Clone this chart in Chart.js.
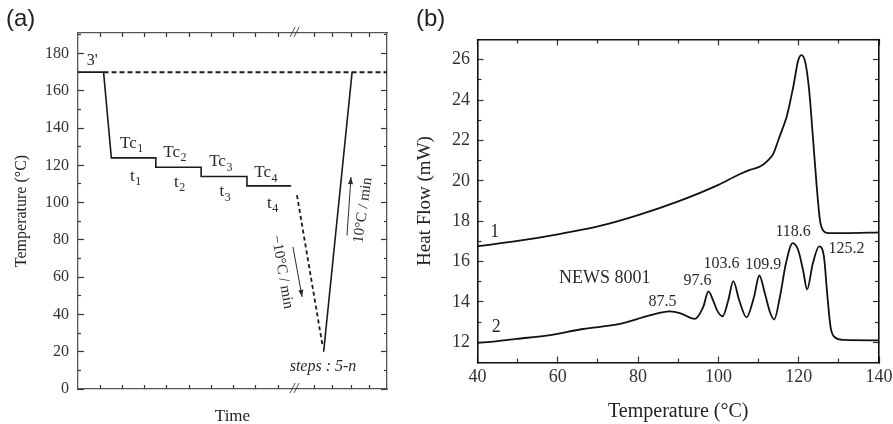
<!DOCTYPE html>
<html lang="en">
<head>
<meta charset="UTF-8">
<title>Stepwise crystallization protocol and DSC heating curves</title>
<script src="https://cdn.jsdelivr.net/npm/chart.js"></script>
<style>
  html, body { margin: 0; padding: 0; background: #fff; overflow: hidden; }
  #wrap { position: relative; width: 893px; height: 424px; overflow: hidden; }
  canvas { position: absolute; top: 0; }
  #chartA { left: 0; }
  #chartB { left: 405px; }
  .tag { position: absolute; top: 4px; font-family: "Liberation Sans", Arial, sans-serif; font-size: 24px; color: #222; }
</style>
</head>
<body>
<div id="wrap">
  <canvas id="chartA" width="405" height="424"></canvas>
  <canvas id="chartB" width="520" height="424"></canvas>
  <div class="tag" style="left:6px;">(a)</div>
  <div class="tag" style="left:416px;">(b)</div>
</div>
<script>
// ---------- panel (a): thermal protocol (time in arbitrary units) ----------
const isoTime = [0, 1.15, 1.5, 3.5, 3.5, 5.54, 5.54, 7.6, 7.6, 9.59];
const isoTemp = [170, 170, 124, 124, 119, 119, 114, 114, 109, 109];
const coolTime = [9.85, 10.99];
const coolTemp = [104, 24];
const heatTime = [11.05, 12.33];
const heatTemp = [20, 170];
const meltTime = [1.15, 13.9];
const meltTemp = [170, 170];

const timeTicks = [1, 2, 3, 4, 5, 6, 7, 8, 9, 10.65, 11.47, 12.29, 13.11];
const tempTicksA = [0, 20, 40, 60, 80, 100, 120, 140, 160, 180];
const tempMinorA = [10, 30, 50, 70, 90, 110, 130, 150, 170, 190];

// ---------- panel (b): DSC heating curves ----------
const temp1 = [40, 50, 60, 70, 80, 90, 100, 105, 108, 110.5,
               112.3, 113.7, 114.9, 116, 117, 118.65, 119.9, 120.7, 121.7, 122.6, 123.6, 124.5, 125.3,
               126.1, 127.4, 131.5, 140];
const flow1 = [16.76, 17.02, 17.35, 17.74, 18.3, 18.98, 19.8, 20.3, 20.55, 20.72,
               21.0, 21.35, 22.0, 22.6, 23.17, 24.66, 25.98, 26.23, 25.82, 24.49, 22.0, 19.69, 18.04,
               17.54, 17.41, 17.41, 17.45];
const temp2 = [40, 44.5, 49.7, 57.2, 66.3, 75.5, 82.9, 87.9, 90.4, 94.15, 96.2, 97.5, 98.7, 99.7, 101.05,
               102.45, 103.7, 105.2, 107, 108.85, 110.2, 111.6, 112.85, 113.9, 115.3, 116.8, 118.5, 119.9,
               121.1, 122.1, 123.5, 125.1, 126.3, 127.1, 127.95, 129, 131.1, 140];
const flow2 = [11.97, 12.05, 12.17, 12.33, 12.66, 12.91, 13.33, 13.53, 13.45, 13.16, 13.74, 14.52, 14.07, 13.57, 13.29,
               14.07, 15.03, 14.07, 13.24, 14.23, 15.31, 14.40, 13.49, 13.13, 14.23, 15.89, 16.91, 16.55,
               15.56, 14.62, 15.89, 16.75, 16.22, 14.40, 12.74, 12.25, 12.12, 12.1];

const tempTicksB = [40, 60, 80, 100, 120, 140];
const tempMinorB = [50, 70, 90, 110, 130];
const flowTicks = [12, 14, 16, 18, 20, 22, 24, 26];
const flowMinor = [11, 13, 15, 17, 19, 21, 23, 25, 27];

const SERIF = '"Liberation Serif", "Times New Roman", serif';

function pts(xs, ys) { return xs.map((v, i) => ({ x: v, y: ys[i] })); }

// one edge axis; size = thickness of its box, len = inward tick length
function axis(position, min, max, values, size, len, weight, extra) {
  return Object.assign({
    type: 'linear', position: position, min: min, max: max, weight: weight,
    afterBuildTicks: s => { s.ticks = values.map(v => ({ value: v })); },
    afterFit: s => { if (s.isHorizontal()) s.height = size; else s.width = size; },
    grid: { drawOnChartArea: false, tickLength: -len, tickColor: '#333', tickWidth: 1.2 },
    border: { display: false },
    ticks: { display: false }
  }, extra || {});
}

// texts and arrows placed in data units through the scales
const notes = {
  id: 'notes',
  afterDraw(chart, args, opts) {
    const ctx = chart.ctx, sx = chart.scales.x, sy = chart.scales.y;
    ctx.save();
    ctx.fillStyle = '#2a2a2a';
    ctx.strokeStyle = '#2a2a2a';
    ctx.textBaseline = 'middle';
    (opts.texts || []).forEach(n => {
      ctx.save();
      ctx.translate(sx.getPixelForValue(n.x), sy.getPixelForValue(n.y));
      ctx.rotate((n.rot || 0) * Math.PI / 180);
      ctx.font = (n.italic ? 'italic ' : '') + n.size + 'px ' + SERIF;
      ctx.textAlign = n.align || 'center';
      ctx.fillText(n.t, 0, 0);
      if (n.sub) {
        const w = ctx.measureText(n.t).width;
        ctx.font = Math.round(n.size * 0.7) + 'px ' + SERIF;
        ctx.textAlign = 'left';
        ctx.fillText(n.sub, w + 0.5, n.size * 0.32);
      }
      ctx.restore();
    });
    (opts.arrows || []).forEach(a => {
      const x1 = sx.getPixelForValue(a.x1), y1 = sy.getPixelForValue(a.y1);
      const x2 = sx.getPixelForValue(a.x2), y2 = sy.getPixelForValue(a.y2);
      const ang = Math.atan2(y2 - y1, x2 - x1);
      ctx.lineWidth = 1;
      ctx.beginPath(); ctx.moveTo(x1, y1); ctx.lineTo(x2, y2); ctx.stroke();
      ctx.beginPath();
      ctx.moveTo(x2, y2);
      ctx.lineTo(x2 - 7 * Math.cos(ang) + 2.5 * Math.sin(ang), y2 - 7 * Math.sin(ang) - 2.5 * Math.cos(ang));
      ctx.lineTo(x2 - 7 * Math.cos(ang) - 2.5 * Math.sin(ang), y2 - 7 * Math.sin(ang) + 2.5 * Math.cos(ang));
      ctx.closePath(); ctx.fill();
    });
    ctx.restore();
  }
};

const common = {
  responsive: false,
  animation: false,
  events: [],
  layout: { padding: 0 },
  elements: { point: { radius: 0 } }
};

// ---------- chart (a) ----------
const borderA = { display: true, color: '#555', width: 1.3 };
new Chart(document.getElementById('chartA'), {
  type: 'line',
  data: {
    datasets: [
      { data: pts(isoTime, isoTemp), borderColor: '#1a1a1a', borderWidth: 1.6, tension: 0 },
      { data: pts(coolTime, coolTemp), borderColor: '#1a1a1a', borderWidth: 1.8, borderDash: [4, 3] },
      { data: pts(heatTime, heatTemp), borderColor: '#1a1a1a', borderWidth: 1.6 },
      { data: pts(meltTime, meltTemp), borderColor: '#1a1a1a', borderWidth: 2, borderDash: [5, 3] }
    ]
  },
  options: Object.assign({}, common, {
    plugins: {
      legend: { display: false }, tooltip: { enabled: false },
      notes: {
        texts: [
          { t: "3'", x: 0.39, y: 176, size: 16, align: 'left' },
          { t: 'Tc', sub: '1', x: 1.89, y: 131.8, size: 17, align: 'left' },
          { t: 't', sub: '1', x: 2.34, y: 114.2, size: 17, align: 'left' },
          { t: 'Tc', sub: '2', x: 3.84, y: 127.1, size: 17, align: 'left' },
          { t: 't', sub: '2', x: 4.32, y: 111, size: 17, align: 'left' },
          { t: 'Tc', sub: '3', x: 5.9, y: 121.8, size: 17, align: 'left' },
          { t: 't', sub: '3', x: 6.37, y: 105.7, size: 17, align: 'left' },
          { t: 'Tc', sub: '4', x: 7.93, y: 115.9, size: 17, align: 'left' },
          { t: 't', sub: '4', x: 8.5, y: 99.5, size: 17, align: 'left' },
          { t: '\u221210\u00b0C / min', x: 9.18, y: 62.8, size: 15, rot: 80 },
          { t: '10\u00b0C / min', x: 12.82, y: 95.9, size: 15, rot: -82 },
          { t: 'steps : 5-n', x: 11.02, y: 11.9, size: 16, italic: true },
          { t: '//', x: 9.73, y: 191, size: 15, italic: true },
          { t: '//', x: 9.73, y: 0, size: 15, italic: true }
        ],
        arrows: [
          { x1: 9.67, y1: 76.2, x2: 10.08, y2: 49.4 },
          { x1: 12.1, y1: 82.4, x2: 12.28, y2: 113.7 }
        ]
      }
    },
    scales: {
      x: axis('bottom', 0, 13.9, timeTicks, 35, 4, 1, {
        border: borderA,
        title: { display: true, text: 'Time', color: '#222', font: { family: SERIF, size: 17, lineHeight: 1 }, padding: { bottom: -1 } }
      }),
      xt: axis('top', 0, 13.9, timeTicks, 33, 4, 1, { border: borderA }),
      y: axis('left', 0, 191, tempTicksA, 78, 6, 1, {
        border: borderA,
        ticks: { display: true, padding: 15, color: '#333', font: { family: SERIF, size: 16 } },
        title: { display: true, text: 'Temperature (\u00b0C)', color: '#222', font: { family: SERIF, size: 16 }, padding: { top: 12 } }
      }),
      ym: axis('left', 0, 191, tempMinorA, 0, 3, 0),
      yr: axis('right', 0, 191, tempTicksA, 18, 6, 1, { border: borderA }),
      yrm: axis('right', 0, 191, tempMinorA, 0, 3, 0)
    }
  }),
  plugins: [notes]
});

// ---------- chart (b) ----------
const borderB = { display: true, color: '#111', width: 1.6 };
new Chart(document.getElementById('chartB'), {
  type: 'line',
  data: {
    datasets: [
      { data: pts(temp1, flow1), borderColor: '#111', borderWidth: 1.8, cubicInterpolationMode: 'monotone' },
      { data: pts(temp2, flow2), borderColor: '#111', borderWidth: 1.8, cubicInterpolationMode: 'monotone' }
    ]
  },
  options: Object.assign({}, common, {
    plugins: {
      legend: { display: false }, tooltip: { enabled: false },
      notes: {
        texts: [
          { t: '1', x: 44.3, y: 17.46, size: 18 },
          { t: '2', x: 44.7, y: 12.74, size: 18 },
          { t: 'NEWS 8001', x: 71.7, y: 15.15, size: 18 },
          { t: '87.5', x: 86.1, y: 13.99, size: 16 },
          { t: '97.6', x: 94.8, y: 15.04, size: 16 },
          { t: '103.6', x: 100.8, y: 15.9, size: 16 },
          { t: '109.9', x: 111.2, y: 15.82, size: 16 },
          { t: '118.6', x: 118.6, y: 17.46, size: 16 },
          { t: '125.2', x: 131.9, y: 16.62, size: 16 }
        ]
      }
    },
    scales: {
      x: axis('bottom', 40, 140, tempTicksB, 61.5, 6, 1, {
        border: borderB,
        ticks: { display: true, padding: 10, color: '#333', font: { family: SERIF, size: 18 } },
        title: { display: true, text: 'Temperature (\u00b0C)', color: '#222', font: { family: SERIF, size: 20 }, padding: { bottom: 0 } }
      }),
      xm: axis('bottom', 40, 140, tempMinorB, 0, 4, 0),
      xt: axis('top', 40, 140, tempTicksB, 39.5, 6, 1, { border: borderB }),
      xtm: axis('top', 40, 140, tempMinorB, 0, 4, 0),
      y: axis('left', 11, 27, flowTicks, 72.5, 6, 1, {
        border: borderB,
        ticks: { display: true, padding: 13.5, color: '#333', font: { family: SERIF, size: 18 } },
        title: { display: true, text: 'Heat Flow (mW)', color: '#222', font: { family: SERIF, size: 19 }, padding: { top: 8.6 } }
      }),
      ym: axis('left', 11, 27, flowMinor, 0, 4, 0),
      yr: axis('right', 11, 27, flowTicks, 46, 6, 1, { border: borderB }),
      yrm: axis('right', 11, 27, flowMinor, 0, 4, 0)
    }
  }),
  plugins: [notes]
});
</script>
</body>
</html>
